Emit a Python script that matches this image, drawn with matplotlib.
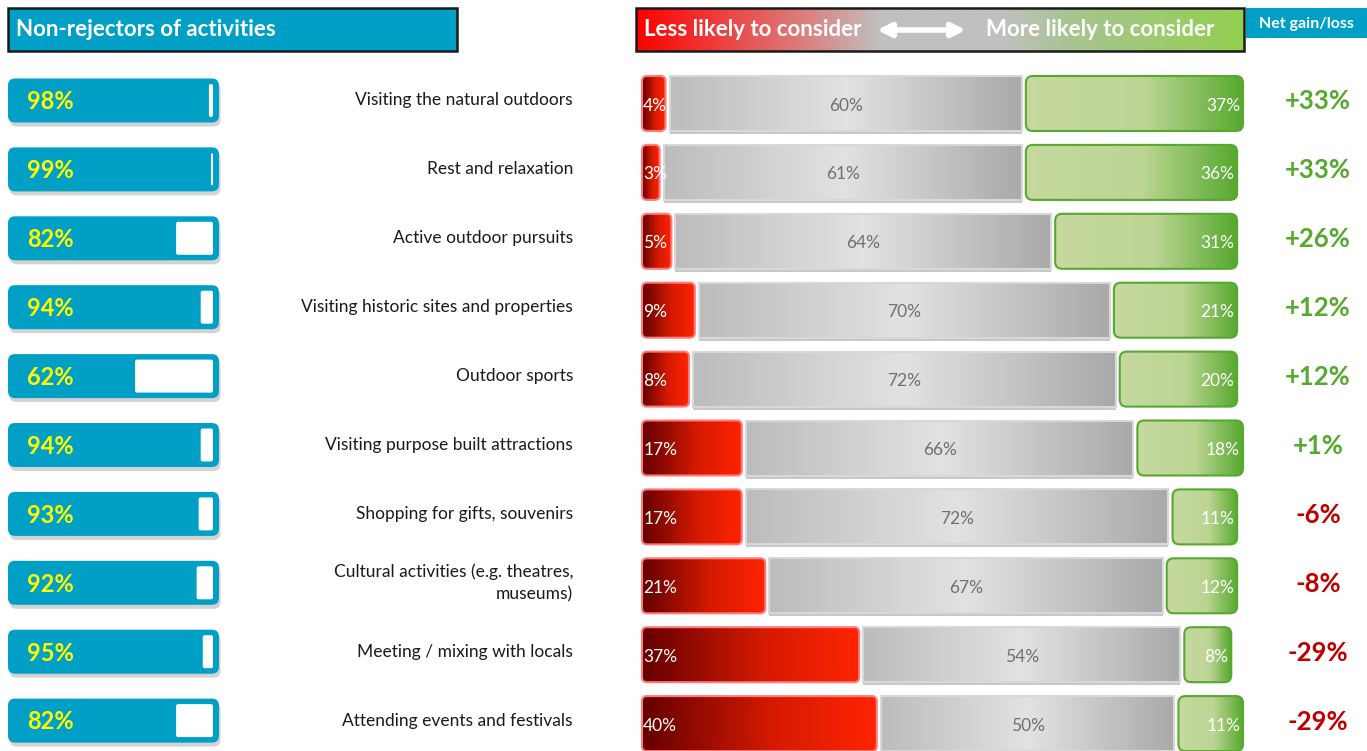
import numpy as np
import matplotlib
matplotlib.use("Agg")
import matplotlib.pyplot as plt
from matplotlib.patches import FancyBboxPatch, Rectangle
from matplotlib.colors import LinearSegmentedColormap
from matplotlib.transforms import blended_transform_factory

plt.rcParams['font.family'] = ['Lato', 'DejaVu Sans']

# ---- data ----
activities = [
    "Visiting the natural outdoors",
    "Rest and relaxation",
    "Active outdoor pursuits",
    "Visiting historic sites and properties",
    "Outdoor sports",
    "Visiting purpose built attractions",
    "Shopping for gifts, souvenirs",
    "Cultural activities (e.g. theatres,\nmuseums)",
    "Meeting / mixing with locals",
    "Attending events and festivals",
]
non_rejectors = [98, 99, 82, 94, 62, 94, 93, 92, 95, 82]
less_likely = [4, 3, 5, 9, 8, 17, 17, 21, 37, 40]
neutral = [60, 61, 64, 70, 72, 66, 72, 67, 54, 50]
more_likely = [37, 36, 31, 21, 20, 18, 11, 12, 8, 11]
net_change = [33, 33, 26, 12, 12, 1, -6, -8, -29, -29]

BLUE = '#00a0c6'
W, H = 1367, 751

fig = plt.figure(figsize=(W / 100, H / 100), dpi=100)

# background axes in pixel units, for headers / text placement
ax_bg = fig.add_axes([0, 0, 1, 1])
ax_bg.set_xlim(0, W)
ax_bg.set_ylim(H, 0)
ax_bg.axis('off')

# right axes: stacked bars
gap = 0.7
x_scale = 601 / (101 + 2 * gap)      # px per percent
row_px, row0 = 68.9, 103.5
ax = fig.add_axes([636 / W, 0, (1250 - 636) / W, 1])
ax.set_xlim((636 - 642) / x_scale, (1250 - 642) / x_scale)
ax.set_ylim((H - row0) / row_px, -row0 / row_px)
ax.axis('off')
ax.set_autoscale_on(False)

# left axes: non-rejector bars
l_scale = 2.05
lrow0 = 100.5
axl = fig.add_axes([0, 0, 230 / W, 1])
axl.set_xlim(-8 / l_scale, 222 / l_scale)
axl.set_ylim((H - lrow0) / row_px, -lrow0 / row_px)
axl.axis('off')
axl.set_autoscale_on(False)


def rounded(axis, x0, y0, w, h, r_px, sx, sy, **kw):
    p = FancyBboxPatch((x0, y0), w, h,
                       boxstyle=f"round,pad=0,rounding_size={r_px / sx}",
                       mutation_aspect=sx / sy, **kw)
    axis.add_patch(p)
    return p


def gradient(axis, patch, x0, x1, y0, y1, stops, z):
    cmap = LinearSegmentedColormap.from_list('g', stops)
    grad = cmap(np.linspace(0, 1, 256))[None, :, :3]
    im = axis.imshow(grad, extent=[x0, x1, y1, y0], aspect='auto',
                     interpolation='bilinear', zorder=z)
    im.set_clip_path(patch)


red_stops = [(0, '#640000'), (0.55, '#d41a00'), (1, '#ff2400')]
grey_stops = [(0, '#bcbcbc'), (0.5, '#e2e2e2'), (1, '#a9a9a9')]
green_stops = [(0, '#c6d99f'), (0.55, '#bcd593'), (1, '#56a92e')]

bh = 55 / row_px
ys = np.arange(len(activities))

red_bars = ax.barh(ys, less_likely, height=bh, left=0, color='none')
grey_left = np.array(less_likely) + gap
grey_bars = ax.barh(ys, neutral, height=bh, left=grey_left, color='none')
green_left = grey_left + np.array(neutral) + gap
green_bars = ax.barh(ys, more_likely, height=bh, left=green_left, color='none')

for i in ys:
    # red
    r = red_bars[i]
    x0, y0, w, h = r.get_x(), r.get_y(), r.get_width(), r.get_height()
    p = rounded(ax, x0, y0, w, h, 5, x_scale, row_px, facecolor='none',
                edgecolor='#ff7a7a', lw=1.5, zorder=4)
    gradient(ax, p, x0, x0 + w, y0, y0 + h, red_stops, 3)
    ax.text(x0 + 0.2, i + 0.03, f"{less_likely[i]}%", color='white',
            fontsize=12.5, va='center', ha='left', zorder=6)
    # grey
    g = grey_bars[i]
    x0, y0, w, h = g.get_x(), g.get_y(), g.get_width(), g.get_height()
    ax.add_patch(Rectangle((x0, y0 + 3 / row_px), w, h, facecolor='#c8c8c8',
                           edgecolor='none', zorder=2))
    p = Rectangle((x0, y0), w, h, facecolor='none', edgecolor='#d8d8d8',
                  lw=1.5, zorder=4)
    ax.add_patch(p)
    gradient(ax, p, x0, x0 + w, y0, y0 + h, grey_stops, 3)
    ax.text(x0 + w / 2, i + 0.03, f"{neutral[i]}%", color='#707070',
            fontsize=12.5, va='center', ha='center', zorder=6)
    # green
    gr = green_bars[i]
    x0, y0, w, h = gr.get_x(), gr.get_y(), gr.get_width(), gr.get_height()
    p = rounded(ax, x0, y0, w, h, 7, x_scale, row_px, facecolor='none',
                edgecolor='#56a92e', lw=1.5, zorder=4)
    gradient(ax, p, x0, x0 + w, y0, y0 + h, green_stops, 3)
    ax.text(x0 + w - 0.5, i + 0.03, f"{more_likely[i]}%", color='white',
            fontsize=12.5, va='center', ha='right', zorder=6)

# left blue bars with white remainder
bw_h = 44 / row_px
wh_h = 33 / row_px
for i, v in enumerate(non_rejectors):
    rounded(axl, 0.8, i - bw_h / 2 + 4 / row_px, 102.9, bw_h, 7, l_scale, row_px,
            facecolor='#d3d3d3', edgecolor='none', zorder=1)
    rounded(axl, 0, i - bw_h / 2, 102.9, bw_h, 7, l_scale, row_px,
            facecolor=BLUE, edgecolor='none', zorder=2)
    rounded(axl, v, i - wh_h / 2, 100 - v, wh_h, 2, l_scale, row_px,
            facecolor='white', edgecolor='none', zorder=3)
    axl.text(20.5, i + 0.02, f"{v}%", color='#ffff00', fontsize=17,
             fontweight='bold', va='center', ha='center', zorder=4)

# activity labels and net values
tr = blended_transform_factory(ax_bg.transData, axl.transData)
tr_r = blended_transform_factory(ax_bg.transData, ax.transData)
for i, lab in enumerate(activities):
    ax_bg.text(573, i, lab, transform=tr, ha='right', va='center',
               fontsize=12.5, color='#1a1a1a', multialignment='right',
               linespacing=1.45)
    n = net_change[i]
    col = '#56a92e' if n > 0 else '#c00000'
    ax_bg.text(1318, i - 0.03, f"{n:+d}%", transform=tr_r, ha='center',
               va='center', fontsize=18.5, fontweight='bold', color=col)

# headers
ax_bg.add_patch(Rectangle((8, 8), 449, 43, facecolor=BLUE, edgecolor='#1a1a1a', lw=1.8))
ax_bg.text(16, 30, "Non-rejectors of activities", color='white', fontsize=16,
           fontweight='bold', va='center', ha='left')

hdr = Rectangle((636, 8), 608, 43, facecolor='none', edgecolor='#1a1a1a', lw=1.8, zorder=3)
ax_bg.add_patch(hdr)
hdr_cmap = LinearSegmentedColormap.from_list(
    'h', [(0, '#ff0000'), (0.3, '#d88a8a'), (0.4, '#c0c0c0'), (0.6, '#c0c0c0'),
          (0.72, '#a8c490'), (1, '#92d050')])
im = ax_bg.imshow(hdr_cmap(np.linspace(0, 1, 256))[None, :, :3],
                  extent=[636, 1244, 51, 8], aspect='auto', interpolation='bilinear', zorder=2)
im.set_clip_path(hdr)
ax_bg.set_xlim(0, W)
ax_bg.set_ylim(H, 0)
ax_bg.text(644, 30, "Less likely to consider", color='white', fontsize=16,
           fontweight='bold', va='center', ha='left', zorder=4)
ax_bg.text(1214, 30, "More likely to consider", color='white', fontsize=16,
           fontweight='bold', va='center', ha='right', zorder=4)
ax_bg.annotate('', xy=(966, 30), xytext=(877, 30), zorder=4,
               arrowprops=dict(arrowstyle='<|-|>', color='white', lw=4,
                               mutation_scale=20, shrinkA=0, shrinkB=0))

ax_bg.add_patch(Rectangle((1246, 8), 121, 30, facecolor=BLUE, edgecolor='none'))
ax_bg.text(1306, 24, "Net gain/loss", color='white', fontsize=11.5,
           fontweight='bold', va='center', ha='center')

fig.savefig('out.png', dpi=100)
